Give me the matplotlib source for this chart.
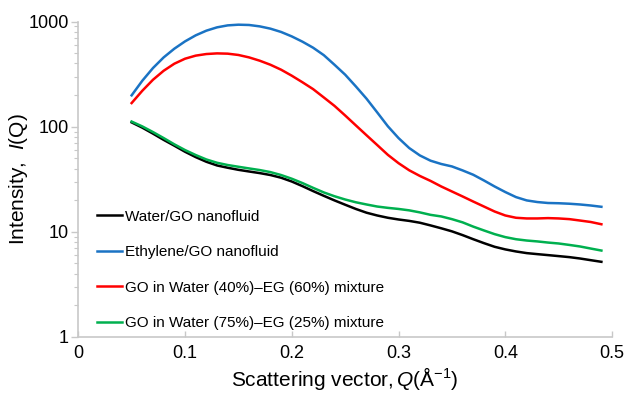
import numpy as np
import matplotlib
matplotlib.use("Agg")
import matplotlib.pyplot as plt
from matplotlib.ticker import FixedLocator, LogLocator, NullFormatter

plt.rcParams['font.family'] = ['Liberation Sans', 'DejaVu Sans']
plt.rcParams['mathtext.fontset'] = 'custom'
plt.rcParams['mathtext.rm'] = 'Liberation Sans'
plt.rcParams['mathtext.it'] = 'Liberation Sans:italic'

# scattering vector Q (1/Angstrom), every 0.01
q = [0.05, 0.06, 0.07, 0.08, 0.09, 0.10, 0.11, 0.12, 0.13, 0.14, 0.15,
     0.16, 0.17, 0.18, 0.19, 0.20, 0.21, 0.22, 0.23, 0.24, 0.25, 0.26,
     0.27, 0.28, 0.29, 0.30, 0.31, 0.32, 0.33, 0.34, 0.35, 0.36, 0.37,
     0.38, 0.39, 0.40, 0.41, 0.42, 0.43, 0.44, 0.45, 0.46, 0.47, 0.48, 0.49]

water_go = [110, 98, 86, 75, 66, 57.8, 51.4, 46.4, 42.8, 40.7, 38.9,
            37.5, 36.2, 34.7, 32.7, 30.1, 27.2, 24.4, 22, 19.9, 18.1, 16.5,
            15.2, 14.3, 13.6, 13.1, 12.7, 12.2, 11.5, 10.8, 10.1, 9.3, 8.5,
            7.8, 7.2, 6.8, 6.5, 6.27, 6.13, 6.0, 5.87, 5.74, 5.57, 5.37, 5.18]
ethylene_go = [199, 274, 362, 457, 553, 649, 741, 821, 883, 922, 936,
               930, 902, 858, 798, 724, 645, 565, 480, 389, 313, 242,
               185, 137, 101, 78, 62.7, 53.3, 47.5, 44.2, 41.9, 38.4, 34.9,
               30.8, 27, 23.9, 21.4, 19.9, 19.2, 18.8, 18.7, 18.5, 18.2, 17.8, 17.3]
mix_40_60 = [168, 220, 280, 341, 398, 444, 475, 492, 499, 496, 482,
             457, 425, 389, 349, 306, 265, 228, 190, 158, 128, 103,
             83, 67, 54, 45, 38.5, 34, 30.5, 27, 24.2, 21.7, 19.4,
             17.4, 15.6, 14.3, 13.6, 13.4, 13.4, 13.5, 13.4, 13.2, 12.8, 12.4, 11.8]
mix_75_25 = [112, 100.7, 89, 78, 68, 60, 53.8, 48.8, 45.4, 43.2, 41.6,
             40.1, 38.7, 37, 34.7, 32, 29.1, 26.2, 23.7, 21.8, 20.3, 19.1,
             18.2, 17.4, 16.9, 16.5, 16.0, 15.3, 14.5, 14.0, 13.2, 12.3, 11.2,
             10.3, 9.5, 8.9, 8.5, 8.26, 8.1, 7.9, 7.74, 7.5, 7.25, 6.93, 6.63]

labels = ["Water/GO nanofluid", "Ethylene/GO nanofluid",
          "GO in Water (40%)\u2013EG (60%) mixture",
          "GO in Water (75%)\u2013EG (25%) mixture"]
colors = ["#000000", "#1a73c4", "#ff0000", "#00b04f"]

fig = plt.figure(figsize=(6.31, 3.94), dpi=100)
ax = fig.add_axes([0.124, 0.145, 0.846, 0.8])

for y, lab, c in zip([water_go, ethylene_go, mix_40_60, mix_75_25], labels, colors):
    ax.plot(q, y, color=c, lw=1.8, label=lab, solid_joinstyle='round')

ax.set_yscale('log')
ax.set_ylim(1, 1000)
ax.set_xlim(0, 0.5)

ax.xaxis.set_major_locator(FixedLocator([0, 0.1, 0.2, 0.3, 0.4, 0.5]))
ax.set_xticklabels(["0", "0.1", "0.2", "0.3", "0.4", "0.5"])
ax.yaxis.set_major_locator(FixedLocator([1, 10, 100, 1000]))
ax.set_yticklabels(["1", "10", "100", "1000"])
ax.yaxis.set_minor_locator(LogLocator(base=10, subs=np.arange(2, 10)))
ax.yaxis.set_minor_formatter(NullFormatter())

gray = "#c8c8c8"
for s in ['top', 'right']:
    ax.spines[s].set_visible(False)
for s in ['left', 'bottom']:
    ax.spines[s].set_color(gray)
    ax.spines[s].set_linewidth(1.2)

ax.tick_params(axis='x', direction='in', length=4, width=1, color=gray,
               labelsize=13, pad=6)
ax.tick_params(axis='y', which='major', direction='out', length=5, width=1,
               color=gray, labelsize=13, pad=2)
ax.tick_params(axis='y', which='minor', direction='out', length=3, width=0.8,
               color=gray)

ax.set_xlabel("Scattering vector,$\\,\\mathit{Q}$(Å$^{-1}$)", fontsize=15, labelpad=2)
ax.set_ylabel("Intensity,  $\\mathit{I}$(Q)", fontsize=15, labelpad=-1)

ax.legend(loc='center left', bbox_to_anchor=(0.0356, 0.212), frameon=False,
          fontsize=11, handlelength=1.6, handletextpad=0.2, labelspacing=1.41,
          borderaxespad=0, borderpad=0)

fig.savefig("out.png", dpi=100)
